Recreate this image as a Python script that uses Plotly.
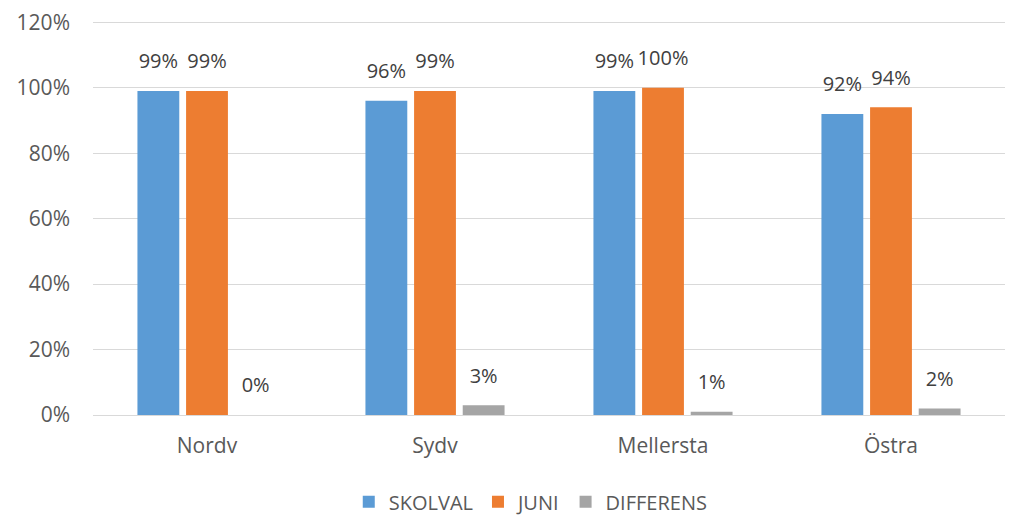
import plotly.graph_objects as go

categories = ["Nordv", "Sydv", "Mellersta", "Östra"]
skolval = [99, 96, 99, 92]
juni = [99, 99, 100, 94]
differens = [0, 3, 1, 2]
series_names = ["SKOLVAL", "JUNI", "DIFFERENS"]
colors = ["#5B9BD5", "#ED7D31", "#A5A5A5"]
tick_vals = [0, 20, 40, 60, 80, 100, 120]
tick_text = [f"{v}%" for v in tick_vals]

fig = go.Figure()
for name, vals, col in zip(series_names, [skolval, juni, differens], colors):
    fig.add_trace(go.Bar(
        x=categories, y=vals, name=name, marker=dict(color=col, line=dict(width=0)),
        text=[f"{v}%" for v in vals],
        texttemplate="<span style='font-size:20px'>%{text}</span><br> ",
        textposition="outside", cliponaxis=False, constraintext="none",
        textfont=dict(size=12, color="#404040", family="Open Sans"),
    ))

fig.update_layout(
    width=1009, height=509,
    margin=dict(l=85, r=12, t=11, b=102, autoexpand=False),
    barmode="group", bargap=0.36, bargroupgap=0.14,
    plot_bgcolor="white", paper_bgcolor="white",
    font=dict(family="Open Sans", size=20, color="#595959"),
    legend=dict(orientation="h", x=0.48, xanchor="center", yref="container",
                y=0.03, yanchor="middle",
                font=dict(size=20, color="#595959"), itemwidth=30),
    showlegend=True,
)
fig.update_yaxes(range=[0, 121], tickmode="array", tickvals=tick_vals, ticktext=tick_text,
                 showgrid=True, gridcolor="#D9D9D9", gridwidth=1, automargin=False,
                 zeroline=True, zerolinecolor="#D9D9D9", zerolinewidth=1,
                 showline=False, ticks="", ticklabelstandoff=22,
                 ticklabeloverflow="allow",
                 tickfont=dict(size=21, color="#595959"))
fig.update_xaxes(showline=False, showgrid=False, ticks="",
                 automargin=False, ticklabelstandoff=16,
                 tickfont=dict(size=21, color="#595959"))
fig.write_html("out.html")
